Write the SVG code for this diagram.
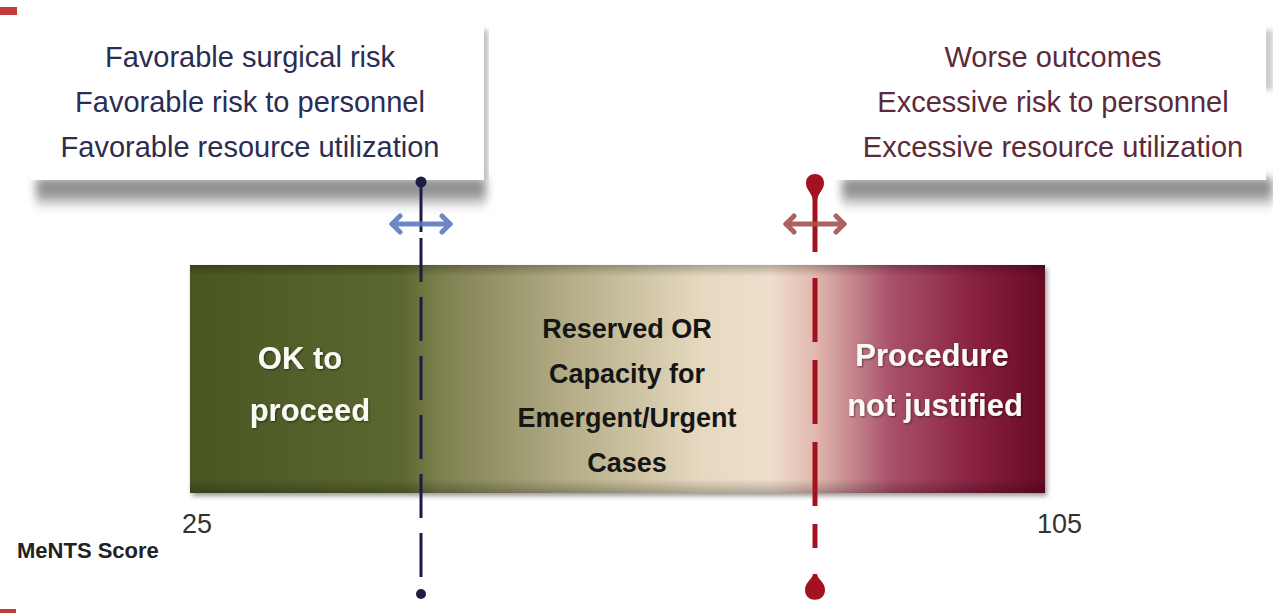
<svg xmlns="http://www.w3.org/2000/svg" width="1273" height="613" viewBox="0 0 1273 613">
<defs>
<linearGradient id="barGrad" x1="190" y1="0" x2="1045" y2="0" gradientUnits="userSpaceOnUse">
<stop offset="0" stop-color="#4a5622"/>
<stop offset="0.25" stop-color="#5c6830"/>
<stop offset="0.29" stop-color="#7d7f4e"/>
<stop offset="0.45" stop-color="#b6af89"/>
<stop offset="0.60" stop-color="#e6d9c0"/>
<stop offset="0.68" stop-color="#f0decc"/>
<stop offset="0.73" stop-color="#e2b9b0"/>
<stop offset="0.82" stop-color="#a9516a"/>
<stop offset="0.92" stop-color="#882040"/>
<stop offset="1" stop-color="#680a24"/>
</linearGradient>
<linearGradient id="barShade" x1="0" y1="265" x2="0" y2="493" gradientUnits="userSpaceOnUse">
<stop offset="0" stop-color="#000" stop-opacity="0.25"/>
<stop offset="0.05" stop-color="#000" stop-opacity="0"/>
<stop offset="0.94" stop-color="#000" stop-opacity="0"/>
<stop offset="1" stop-color="#000" stop-opacity="0.25"/>
</linearGradient>
<linearGradient id="boxShadow" x1="0" y1="0" x2="0" y2="1">
<stop offset="0" stop-color="#888"/>
<stop offset="0.5" stop-color="#999"/>
<stop offset="1" stop-color="#fff" stop-opacity="0"/>
</linearGradient>
<filter id="blur4" x="-10%" y="-60%" width="120%" height="220%"><feGaussianBlur stdDeviation="5"/></filter>
<filter id="blur2" x="-10%" y="-50%" width="120%" height="200%"><feGaussianBlur stdDeviation="2.5"/></filter>
<filter id="tshadow" x="-10%" y="-20%" width="120%" height="140%"><feDropShadow dx="1" dy="1" stdDeviation="1" flood-color="#000" flood-opacity="0.5"/></filter>
</defs>
<style>
.lt{font-family:"Liberation Sans",Arial,sans-serif;font-size:29px;fill:#2b2d52;text-anchor:middle}
.rt{font-family:"Liberation Sans",Arial,sans-serif;font-size:29px;fill:#5b2a3b;text-anchor:middle}
.wb{font-family:"Liberation Sans",Arial,sans-serif;font-size:31px;font-weight:bold;fill:#fbfbf5;text-anchor:middle}
.bb{font-family:"Liberation Sans",Arial,sans-serif;font-size:27px;font-weight:bold;fill:#151515;text-anchor:middle}
.ax{font-family:"Liberation Sans",Arial,sans-serif;font-size:27px;fill:#333}
.lbl{font-family:"Liberation Sans",Arial,sans-serif;font-size:22px;font-weight:bold;fill:#222}
</style>
<rect width="1273" height="613" fill="#fff"/>
<rect x="0" y="7" width="17" height="8" fill="#c23b3b"/>
<rect x="0" y="609" width="16" height="4" fill="#c23b3b"/>

<g id="left-box">
<rect x="36" y="178" width="450" height="36" fill="url(#boxShadow)" filter="url(#blur4)"/>
<rect x="480" y="30" width="8" height="150" fill="#bbb" filter="url(#blur2)"/>
<rect x="30" y="26" width="454" height="154" fill="#fff"/>
<text class="lt" x="250" y="67">Favorable surgical risk</text>
<text class="lt" x="250" y="112">Favorable risk to personnel</text>
<text class="lt" x="250" y="157">Favorable resource utilization</text>
</g>

<g id="right-box">
<rect x="842" y="178" width="431" height="36" fill="url(#boxShadow)" filter="url(#blur4)"/>
<rect x="1263" y="30" width="10" height="60" fill="#ccc" filter="url(#blur2)"/>
<rect x="830" y="25" width="436" height="155" fill="#fff"/>
<text class="rt" x="1053" y="67">Worse outcomes</text>
<text class="rt" x="1053" y="112">Excessive risk to personnel</text>
<text class="rt" x="1053" y="157">Excessive resource utilization</text>
</g>

<g id="bar">
<rect x="192" y="268" width="855" height="228" fill="#999" filter="url(#blur2)"/>
<rect x="190" y="265" width="855" height="228" fill="url(#barGrad)"/>
<rect x="190" y="265" width="855" height="228" fill="url(#barShade)"/>
</g>

<g id="ok-to-proceed">
<text class="wb" x="300" y="369" filter="url(#tshadow)">OK to</text>
<text class="wb" x="310" y="421" filter="url(#tshadow)">proceed</text>
</g>

<g id="reserved">
<text class="bb" x="627" y="338">Reserved OR</text>
<text class="bb" x="627" y="383">Capacity for</text>
<text class="bb" x="627" y="427">Emergent/Urgent</text>
<text class="bb" x="627" y="472">Cases</text>
</g>

<g id="not-justified">
<text class="wb" x="932" y="366" filter="url(#tshadow)">Procedure</text>
<text class="wb" x="935" y="416" filter="url(#tshadow)">not justified</text>
</g>

<g id="axis">
<text class="ax" x="182" y="533">25</text>
<text class="ax" x="1037" y="533">105</text>
<text class="lbl" x="17" y="558">MeNTS Score</text>
</g>

<g id="connectors">
<g id="left-threshold" stroke="#1c1c45" fill="none">
<line x1="421" y1="182" x2="421" y2="232" stroke-width="3"/>
<line x1="421" y1="238" x2="421" y2="578" stroke-width="3" stroke-dasharray="44 15"/>
<circle cx="421" cy="182" r="5.5" fill="#1c1c45" stroke="none"/>
<circle cx="421" cy="594" r="5" fill="#1c1c45" stroke="none"/>
<g stroke="#5b7bbf" stroke-width="5" stroke-linecap="round" stroke-linejoin="round" opacity="0.9">
<line x1="392" y1="224" x2="450" y2="224"/>
<polyline points="400,216 392,224 400,232"/>
<polyline points="442,216 450,224 442,232"/>
</g>
</g>
<g id="right-threshold" stroke="#a3121e" fill="none">
<line x1="815" y1="181" x2="815" y2="252" stroke-width="5"/>
<line x1="815" y1="278" x2="815" y2="548" stroke-width="5" stroke-dasharray="64 18"/>
<path d="M806 183 C806 171 824 171 824 183 C824 190 818 193 817 200 L813 200 C812 193 806 190 806 183 Z" fill="#a3121e" stroke="none"/>
<path d="M813 574 L817 574 C818 580 825 582 825 590 C825 603 805 603 805 590 C805 582 812 580 813 574 Z" fill="#a3121e" stroke="none"/>
<g stroke="#a3524f" stroke-width="5" stroke-linecap="round" stroke-linejoin="round" opacity="0.9">
<line x1="786" y1="224" x2="844" y2="224"/>
<polyline points="794,216 786,224 794,232"/>
<polyline points="836,216 844,224 836,232"/>
</g>
</g>
</g>
</svg>
